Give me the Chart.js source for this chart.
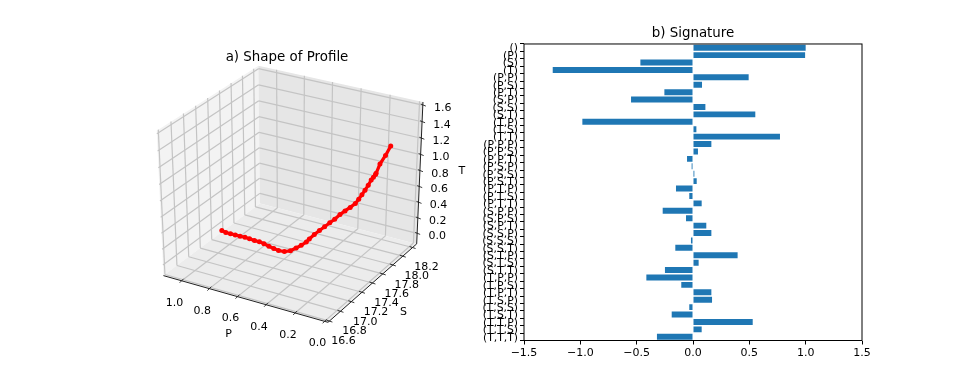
<!DOCTYPE html>
<html>
<head>
<meta charset="utf-8">
<title>Profile and signature</title>
<script src="https://cdn.jsdelivr.net/npm/chart.js@4"></script>
<style>
  html, body { margin: 0; padding: 0; background: #fff; overflow: hidden; }
  #wrap { position: relative; width: 958px; height: 383px; }
  canvas { position: absolute; top: 0; }
  #shape { left: 0; }
  #signature { left: 479px; }
</style>
</head>
<body>
<div id="wrap">
  <canvas id="shape" width="479" height="383"></canvas>
  <canvas id="signature" width="479" height="383"></canvas>
</div>
<script>
// a) profile
const profileP = [1.065, 1.029, 0.994, 0.960, 0.924, 0.890, 0.854, 0.815, 0.781, 0.741, 0.698, 0.656, 0.617, 0.578, 0.551, 0.529, 0.494, 0.459, 0.442, 0.413, 0.384, 0.355, 0.326, 0.298, 0.274, 0.251, 0.228, 0.205, 0.187, 0.175, 0.164, 0.152, 0.141, 0.129, 0.118, 0.112, 0.089, 0.060, 0.028];
const profileS = [17.423, 17.408, 17.407, 17.411, 17.409, 17.414, 17.408, 17.401, 17.405, 17.389, 17.370, 17.354, 17.342, 17.350, 17.391, 17.439, 17.442, 17.445, 17.456, 17.473, 17.491, 17.509, 17.527, 17.543, 17.577, 17.608, 17.642, 17.675, 17.688, 17.714, 17.741, 17.767, 17.791, 17.798, 17.806, 17.800, 17.803, 17.822, 17.825];
const profileT = [0, 0, 0, 0, 0, 0, 0, 0, 0, 0, 0, 0, 0, 0, 0, 0.019, 0.069, 0.126, 0.167, 0.228, 0.282, 0.335, 0.388, 0.437, 0.489, 0.528, 0.564, 0.605, 0.661, 0.706, 0.755, 0.807, 0.864, 0.901, 0.933, 0.954, 1.075, 1.183, 1.307];

const ticksP = [1.0, 0.8, 0.6, 0.4, 0.2, 0.0];
const ticksS = [16.6, 16.8, 17.0, 17.2, 17.4, 17.6, 17.8, 18.0, 18.2];
const ticksT = [0.0, 0.2, 0.4, 0.6, 0.8, 1.0, 1.2, 1.4, 1.6];

// b) signature terms
const sigLabels = ['()', '(P)', '(S)', '(T)',
  '(P,P)', '(P,S)', '(P,T)', '(S,P)', '(S,S)', '(S,T)', '(T,P)', '(T,S)', '(T,T)',
  '(P,P,P)', '(P,P,S)', '(P,P,T)', '(P,S,P)', '(P,S,S)', '(P,S,T)', '(P,T,P)', '(P,T,S)', '(P,T,T)',
  '(S,P,P)', '(S,P,S)', '(S,P,T)', '(S,S,P)', '(S,S,S)', '(S,S,T)', '(S,T,P)', '(S,T,S)', '(S,T,T)',
  '(T,P,P)', '(T,P,S)', '(T,P,T)', '(T,S,P)', '(T,S,S)', '(T,S,T)', '(T,T,P)', '(T,T,S)', '(T,T,T)'];
const sigValues = [1.0, 0.995, -0.467, -1.245,
  0.494, 0.08, -0.254, -0.55, 0.11, 0.553, -0.982, 0.03, 0.772,
  0.163, 0.044, -0.053, -0.012, 0.012, 0.033, -0.151, -0.033, 0.077,
  -0.269, -0.062, 0.118, 0.163, -0.018, -0.157, 0.396, 0.05, -0.249,
  -0.414, -0.104, 0.163, 0.169, -0.033, -0.189, 0.53, 0.077, -0.32];

Chart.defaults.font.family = '"DejaVu Sans"';
Chart.defaults.font.size = 11;
Chart.defaults.color = '#000';
Chart.defaults.animation = false;

// box limits of the 3d axes
const limP = [1.133, -0.023];
const limS = [16.575, 18.285];
const limT = [-0.137, 1.637];

// same camera as mplot3d: elev 30, azim -60, dist 10
function project(p, s, t) {
  const x = (p - limP[0]) / (limP[1] - limP[0]) - 0.5;
  const y = (s - limS[0]) / (limS[1] - limS[0]) - 0.5;
  const z = (t - limT[0]) / (limT[1] - limT[0]) - 0.5;
  const f = 10 / (10 - (0.433 * x - 0.75 * y + 0.5 * z));
  return {
    x: 292 + 190 * f * (0.866 * x + 0.5 * y),
    y: 189.6 - 165.5 * f * (-0.25 * x + 0.433 * y + 0.866 * z)
  };
}

const box3d = {
  id: 'box3d',
  beforeDatasetsDraw(chart) {
    const c = chart.ctx;
    const sx = chart.scales.x, sy = chart.scales.y;
    const at = (p, s, t) => {
      const q = project(p, s, t);
      return [sx.getPixelForValue(q.x), sy.getPixelForValue(q.y)];
    };
    const path = (pts) => {
      c.beginPath();
      pts.forEach((q, i) => i ? c.lineTo(q[0], q[1]) : c.moveTo(q[0], q[1]));
    };
    const seg = (a, b, col, w) => {
      path([a, b]);
      c.strokeStyle = col;
      c.lineWidth = w;
      c.stroke();
    };
    const [p0, p1] = limP, [s0, s1] = limS, [t0, t1] = limT;

    c.save();
    // panes
    path([at(p0, s0, t0), at(p0, s1, t0), at(p0, s1, t1), at(p0, s0, t1)]);
    c.fillStyle = '#f3f3f3'; c.fill();
    path([at(p0, s1, t0), at(p1, s1, t0), at(p1, s1, t1), at(p0, s1, t1)]);
    c.fillStyle = '#e6e6e6'; c.fill();
    path([at(p0, s0, t0), at(p1, s0, t0), at(p1, s1, t0), at(p0, s1, t0)]);
    c.fillStyle = '#ececec'; c.fill();

    // grid
    const grid = '#c4c4c4';
    ticksS.forEach(s => {
      seg(at(p1, s, t0), at(p0, s, t0), grid, 1.2);
      seg(at(p0, s, t0), at(p0, s, t1), grid, 1.2);
    });
    ticksP.forEach(p => {
      seg(at(p, s0, t0), at(p, s1, t0), grid, 1.2);
      seg(at(p, s1, t0), at(p, s1, t1), grid, 1.2);
    });
    ticksT.forEach(t => {
      seg(at(p0, s0, t), at(p0, s1, t), grid, 1.2);
      seg(at(p0, s1, t), at(p1, s1, t), grid, 1.2);
    });

    // axis lines
    const ink = '#222';
    seg(at(p0, s0, t0), at(p1, s0, t0), ink, 1);
    seg(at(p1, s0, t0), at(p1, s1, t0), ink, 1);
    seg(at(p1, s1, t0), at(p1, s1, t1), ink, 1);

    // ticks and their labels
    c.fillStyle = '#000';
    c.font = '11px "DejaVu Sans"';
    c.textAlign = 'center';
    c.textBaseline = 'middle';
    ticksP.forEach(p => {
      const q = at(p, s0, t0);
      seg([q[0] - 2, q[1] + 2], [q[0] + 2, q[1] - 2], ink, 0.9);
      c.fillText(p.toFixed(1), q[0] - 7, q[1] + 22);
    });
    ticksS.forEach(s => {
      const q = at(p1, s, t0);
      seg([q[0] - 3, q[1] - 1], [q[0] + 3, q[1] + 1], ink, 0.9);
      c.fillText(s.toFixed(1), q[0] + 14, q[1] + 20);
    });
    ticksT.forEach(t => {
      const q = at(p1, s1, t);
      seg([q[0] - 2, q[1] - 1], [q[0] + 3, q[1] + 1], ink, 0.9);
      c.fillText(t.toFixed(1), q[0] + 20, q[1] + 3);
    });
    const lab = (txt, p, s, t, dx, dy) => {
      const q = at(p, s, t);
      c.fillText(txt, q[0] + dx, q[1] + dy);
    };
    lab('P', 0.6, s0, t0, -9, 38);
    lab('S', p1, 17.4, t0, 31, 29);
    lab('T', p1, s1, 0.8, 42, 0);
    c.restore();
  }
};

new Chart(document.getElementById('shape').getContext('2d'), {
  type: 'scatter',
  data: {
    datasets: [{
      data: profileP.map((p, i) => project(p, profileS[i], profileT[i])),
      showLine: true,
      borderColor: '#ff0000',
      backgroundColor: '#ff0000',
      borderWidth: 3.2,
      pointRadius: 2.5,
      pointBorderWidth: 0,
      clip: false
    }]
  },
  options: {
    responsive: false,
    layout: { autoPadding: false, padding: { left: 95, right: 0, top: 0, bottom: 0 } },
    plugins: {
      legend: { display: false },
      tooltip: { enabled: false },
      title: {
        display: true,
        text: 'a) Shape of Profile',
        fullSize: false,
        font: { size: 13.4, weight: 'normal' },
        padding: { top: 49, bottom: 0.9 }
      }
    },
    scales: {
      x: { display: false, min: 95, max: 479 },
      y: { display: false, min: 66, max: 383, reverse: true }
    }
  },
  plugins: [box3d]
});

const frame = {
  id: 'frame',
  afterDatasetsDraw(chart) {
    const a = chart.chartArea, c = chart.ctx;
    c.save();
    c.strokeStyle = '#000';
    c.lineWidth = 1;
    c.strokeRect(a.left, a.top, a.right - a.left, a.bottom - a.top);
    c.restore();
  }
};

new Chart(document.getElementById('signature').getContext('2d'), {
  type: 'bar',
  data: {
    labels: sigLabels,
    datasets: [{
      data: sigValues,
      backgroundColor: '#1f77b4',
      barPercentage: 0.8,
      categoryPercentage: 1
    }]
  },
  options: {
    responsive: false,
    indexAxis: 'y',
    layout: { padding: { left: 0, right: 96, top: 0, bottom: 0 } },
    plugins: {
      legend: { display: false },
      tooltip: { enabled: false },
      title: {
        display: true,
        text: 'b) Signature',
        fullSize: false,
        font: { size: 13.4, weight: 'normal' },
        padding: { top: 25, bottom: 2.9 }
      }
    },
    scales: {
      x: {
        min: -1.5,
        max: 1.5,
        afterFit(scale) { scale.height = 42.5; },
        grid: { drawOnChartArea: false, tickLength: 4, tickColor: '#000' },
        border: { display: false },
        ticks: {
          stepSize: 0.5,
          padding: 2,
          maxRotation: 0,
          callback: v => v.toFixed(1).replace('-', '\u2212')
        }
      },
      y: {
        afterFit(scale) { scale.width = 45; },
        grid: { drawOnChartArea: false, tickLength: 4, tickColor: '#000' },
        border: { display: false },
        ticks: {
          autoSkip: false,
          padding: 2,
          labelOffset: 1,
          maxRotation: 0,
          minRotation: 0,
          font: { size: 10.8 }
        }
      }
    }
  },
  plugins: [frame]
});
</script>
</body>
</html>
